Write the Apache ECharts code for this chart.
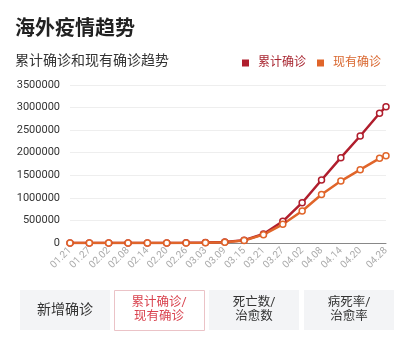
<!DOCTYPE html>
<html>
<head>
<meta charset="utf-8">
<script src="https://cdn.jsdelivr.net/npm/echarts@6/dist/echarts.min.js"></script>
<style>
html,body{margin:0;padding:0;background:#fff;}
#chart{width:413px;height:340px;}
</style>
</head>
<body>
<div id="chart"></div>
<script>
// Category axis: every day from 01.21 to 04.28
var dates = ['01.21','01.22','01.23','01.24','01.25','01.26','01.27','01.28','01.29','01.30','01.31',
'02.01','02.02','02.03','02.04','02.05','02.06','02.07','02.08','02.09','02.10','02.11','02.12','02.13','02.14','02.15','02.16','02.17','02.18','02.19','02.20','02.21','02.22','02.23','02.24','02.25','02.26','02.27','02.28','02.29',
'03.01','03.02','03.03','03.04','03.05','03.06','03.07','03.08','03.09','03.10','03.11','03.12','03.13','03.14','03.15','03.16','03.17','03.18','03.19','03.20','03.21','03.22','03.23','03.24','03.25','03.26','03.27','03.28','03.29','03.30','03.31',
'04.01','04.02','04.03','04.04','04.05','04.06','04.07','04.08','04.09','04.10','04.11','04.12','04.13','04.14','04.15','04.16','04.17','04.18','04.19','04.20','04.21','04.22','04.23','04.24','04.25','04.26','04.27','04.28'];

var pointDates = ['01.21','01.27','02.02','02.08','02.14','02.20','02.26','03.03','03.09','03.15','03.21','03.27','04.02','04.08','04.14','04.20','04.26','04.28'];
var totalConfirmed  = [10, 60, 150, 300, 500, 1100, 3000, 9000, 22000, 62000, 200000, 481000, 893000, 1396000, 1890000, 2370000, 2873000, 3019000];
var activeConfirmed = [10, 55, 140, 280, 450, 900, 2500, 7500, 19000, 56000, 185000, 414000, 709000, 1075000, 1372000, 1624000, 1876000, 1934000];

var yTicks = [0, 500000, 1000000, 1500000, 2000000, 2500000, 3000000, 3500000];
var seriesNames = ['累计确诊', '现有确诊'];
var buttonLabels = ['新增确诊', '累计确诊/\n现有确诊', '死亡数/\n治愈数', '病死率/\n治愈率'];

var RED = '#b01e2d';
var ORANGE = '#e0652a';
var FONT = 'Roboto, "Noto Sans CJK SC", sans-serif';

var chart = echarts.init(document.getElementById('chart'), null, {renderer: 'canvas'});

function pairs(vals) {
  return pointDates.map(function (d, i) { return [d, vals[i]]; });
}

var labelIdx = {};
pointDates.forEach(function (d, i) { labelIdx[d] = true; });

var btnX = [20, 114, 209, 304];
var graphics = [];
buttonLabels.forEach(function (t, i) {
  var active = i === 1;
  graphics.push({
    type: 'rect', left: btnX[i], top: 290,
    shape: {width: 90, height: 40},
    style: {fill: active ? '#ffffff' : '#f3f4f6', stroke: active ? '#ebc3c7' : null, lineWidth: 1}
  });
  graphics.push({
    type: 'text', x: btnX[i] + 45, y: 310,
    style: {
      text: t, align: 'center', verticalAlign: 'middle',
      fontSize: i === 0 ? 14 : 12.5, lineHeight: 14.5, fontFamily: FONT,
      fill: active ? '#d9434f' : '#333333'
    }
  });
});

var option = {
  backgroundColor: '#ffffff',
  animation: false,
  title: [
    {text: '海外疫情趋势', left: 15, top: 15, padding: [5, 5, 5, 0], textStyle: {fontSize: 20, fontWeight: 'bold', color: '#222', fontFamily: FONT}},
    {text: '累计确诊和现有确诊趋势', left: 15, top: 50, padding: [5, 5, 5, 0], textStyle: {fontSize: 14, fontWeight: 'normal', color: '#333', fontFamily: FONT}}
  ],
  legend: {
    right: 32, top: 52, padding: [5, 0, 5, 5],
    icon: 'rect', itemWidth: 7, itemHeight: 7, itemGap: 11,
    textStyle: {fontSize: 12, fontFamily: FONT, padding: [0, 0, 0, 4]},
    data: [
      {name: seriesNames[0], textStyle: {color: '#a82530'}},
      {name: seriesNames[1], textStyle: {color: '#d9662e'}}
    ]
  },
  grid: {left: 70, right: 27, top: 85, bottom: 97},
  xAxis: {
    type: 'category', data: dates, boundaryGap: false,
    axisLine: {lineStyle: {color: '#888', width: 1}},
    axisTick: {show: false},
    axisLabel: {
      rotate: 45, color: '#aaa', fontSize: 10, fontFamily: FONT, margin: 6,
      interval: function (idx, val) { return val !== '04.26' && labelIdx[val] === true; }
    }
  },
  yAxis: {
    type: 'value', min: yTicks[0], max: yTicks[yTicks.length - 1], interval: yTicks[1] - yTicks[0],
    axisLine: {show: false}, axisTick: {show: false},
    axisLabel: {color: '#333', fontSize: 11, fontFamily: FONT, margin: 10, formatter: function (v) { return String(v); }},
    splitLine: {lineStyle: {color: '#eeeeee', width: 1}}
  },
  series: [
    {
      name: seriesNames[0], type: 'line', data: pairs(totalConfirmed),
      connectNulls: true, showAllSymbol: true,
      symbol: 'circle', symbolSize: 6,
      itemStyle: {color: '#ffffff', borderColor: RED, borderWidth: 1.5},
      lineStyle: {color: RED, width: 2.5}
    },
    {
      name: seriesNames[1], type: 'line', data: pairs(activeConfirmed),
      connectNulls: true, showAllSymbol: true,
      symbol: 'circle', symbolSize: 6,
      itemStyle: {color: '#ffffff', borderColor: ORANGE, borderWidth: 1.5},
      lineStyle: {color: ORANGE, width: 2.5}
    }
  ],
  graphic: graphics
};
option.legend.data[0].itemStyle = {color: RED, borderWidth: 0};
option.legend.data[1].itemStyle = {color: ORANGE, borderWidth: 0};
chart.setOption(option);
</script>
</body>
</html>
